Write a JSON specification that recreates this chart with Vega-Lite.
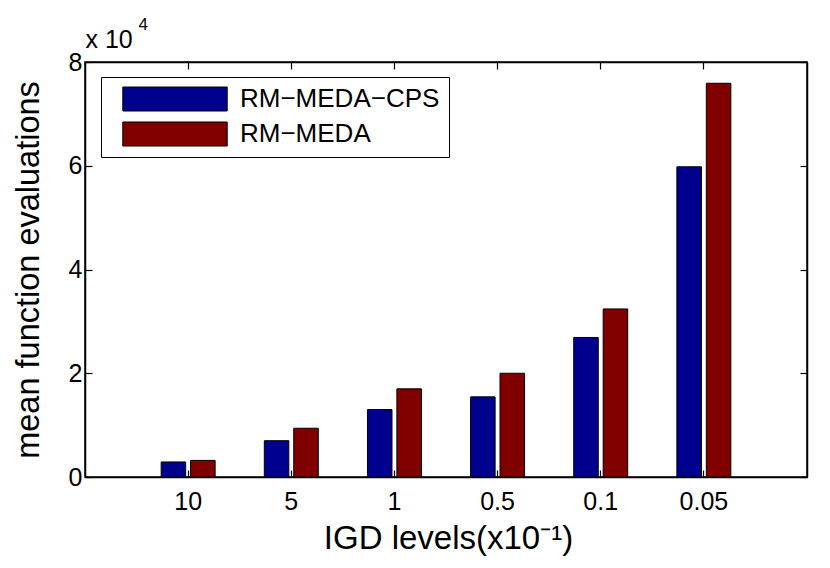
{
  "$schema": "https://vega.github.io/schema/vega-lite/v6.json",
  "width": 722,
  "height": 415,
  "autosize": {"type": "none"},
  "padding": {"left": 85, "top": 62, "right": 23, "bottom": 91},
  "background": "white",
  "config": {
    "font": "Liberation Sans",
    "view": {"stroke": "black", "strokeWidth": 1.5},
    "axis": {
      "domainColor": "black", "domainWidth": 1.5,
      "tickColor": "black", "tickWidth": 1.2,
      "labelColor": "black", "titleColor": "black",
      "grid": false,
      "labelFont": "Liberation Sans", "titleFont": "Liberation Sans",
      "titleFontWeight": "normal"
    }
  },
  "data": {
    "values": [
      {"level": "10", "method": "RM−MEDA−CPS", "evals": 2900},
      {"level": "10", "method": "RM−MEDA", "evals": 3200},
      {"level": "5", "method": "RM−MEDA−CPS", "evals": 7000},
      {"level": "5", "method": "RM−MEDA", "evals": 9400},
      {"level": "1", "method": "RM−MEDA−CPS", "evals": 13000},
      {"level": "1", "method": "RM−MEDA", "evals": 17000},
      {"level": "0.5", "method": "RM−MEDA−CPS", "evals": 15450},
      {"level": "0.5", "method": "RM−MEDA", "evals": 20000},
      {"level": "0.1", "method": "RM−MEDA−CPS", "evals": 26900},
      {"level": "0.1", "method": "RM−MEDA", "evals": 32400},
      {"level": "0.05", "method": "RM−MEDA−CPS", "evals": 59800},
      {"level": "0.05", "method": "RM−MEDA", "evals": 75900}
    ]
  },
  "layer": [
    {
      "mark": {"type": "bar", "stroke": "black", "strokeWidth": 1},
      "encoding": {
        "x": {
          "field": "level", "type": "nominal",
          "sort": ["10", "5", "1", "0.5", "0.1", "0.05"],
          "scale": {"paddingInner": 0, "paddingOuter": 0.5},
          "axis": {
            "orient": "bottom",
            "title": "IGD levels(x10⁻¹)",
            "titleFontSize": 33,
            "titleX": 363, "titleY": 71,
            "titleAlign": "center", "titleBaseline": "alphabetic",
            "labelFontSize": 25, "labelAngle": 0,
            "labelBaseline": "top",
            "tickSize": -7, "labelPadding": 19
          }
        },
        "xOffset": {
          "field": "method", "type": "nominal",
          "sort": ["RM−MEDA−CPS", "RM−MEDA"],
          "scale": {"paddingInner": 0.167, "paddingOuter": 0.835}
        },
        "y": {
          "field": "evals", "type": "quantitative", "stack": null,
          "scale": {"domain": [0, 80000], "nice": false},
          "axis": {
            "orient": "left",
            "values": [0, 20000, 40000, 60000, 80000],
            "labelExpr": "datum.value / 10000",
            "title": "mean function evaluations",
            "titleFontSize": 32.5,
            "titleX": -47, "titleY": 207.5,
            "titleAngle": 270, "titleAlign": "center", "titleBaseline": "alphabetic",
            "labelFontSize": 25,
            "tickSize": -7, "labelPadding": 10
          }
        },
        "color": {
          "field": "method", "type": "nominal",
          "sort": ["RM−MEDA−CPS", "RM−MEDA"],
          "scale": {"domain": ["RM−MEDA−CPS", "RM−MEDA"], "range": ["#00008F", "#800000"]},
          "legend": {
            "orient": "none", "legendX": 16, "legendY": 15,
            "title": null,
            "fillColor": "white", "strokeColor": "black",
            "padding": 9,
            "symbolType": "M-4.35,-1H4.35V1H-4.35Z",
            "symbolSize": 576,
            "symbolStrokeColor": "black", "symbolStrokeWidth": 1,
            "symbolOpacity": 1,
            "symbolOffset": 52,
            "labelOffset": 52,
            "labelFontSize": 26, "labelFont": "Liberation Sans", "labelColor": "black",
            "labelLimit": 400,
            "rowPadding": 7
          }
        }
      }
    },
    {
      "mark": {"type": "bar", "opacity": 0},
      "encoding": {
        "x": {
          "field": "level", "type": "nominal",
          "sort": ["10", "5", "1", "0.5", "0.1", "0.05"],
          "axis": {
            "orient": "top", "labels": false, "tickSize": -7,
            "title": "x 10", "titleFontSize": 25,
            "titleX": 0, "titleY": -15,
            "titleAlign": "left", "titleBaseline": "alphabetic", "titleAngle": 0
          }
        },
        "y": {
          "field": "evals", "type": "quantitative", "stack": null,
          "axis": {
            "orient": "right", "labels": false, "tickSize": -7,
            "values": [0, 20000, 40000, 60000, 80000],
            "title": "4", "titleFontSize": 17,
            "titleX": -669, "titleY": -33,
            "titleAlign": "left", "titleBaseline": "alphabetic", "titleAngle": 0
          }
        }
      }
    }
  ],
  "resolve": {"axis": {"x": "independent", "y": "independent"}}
}
